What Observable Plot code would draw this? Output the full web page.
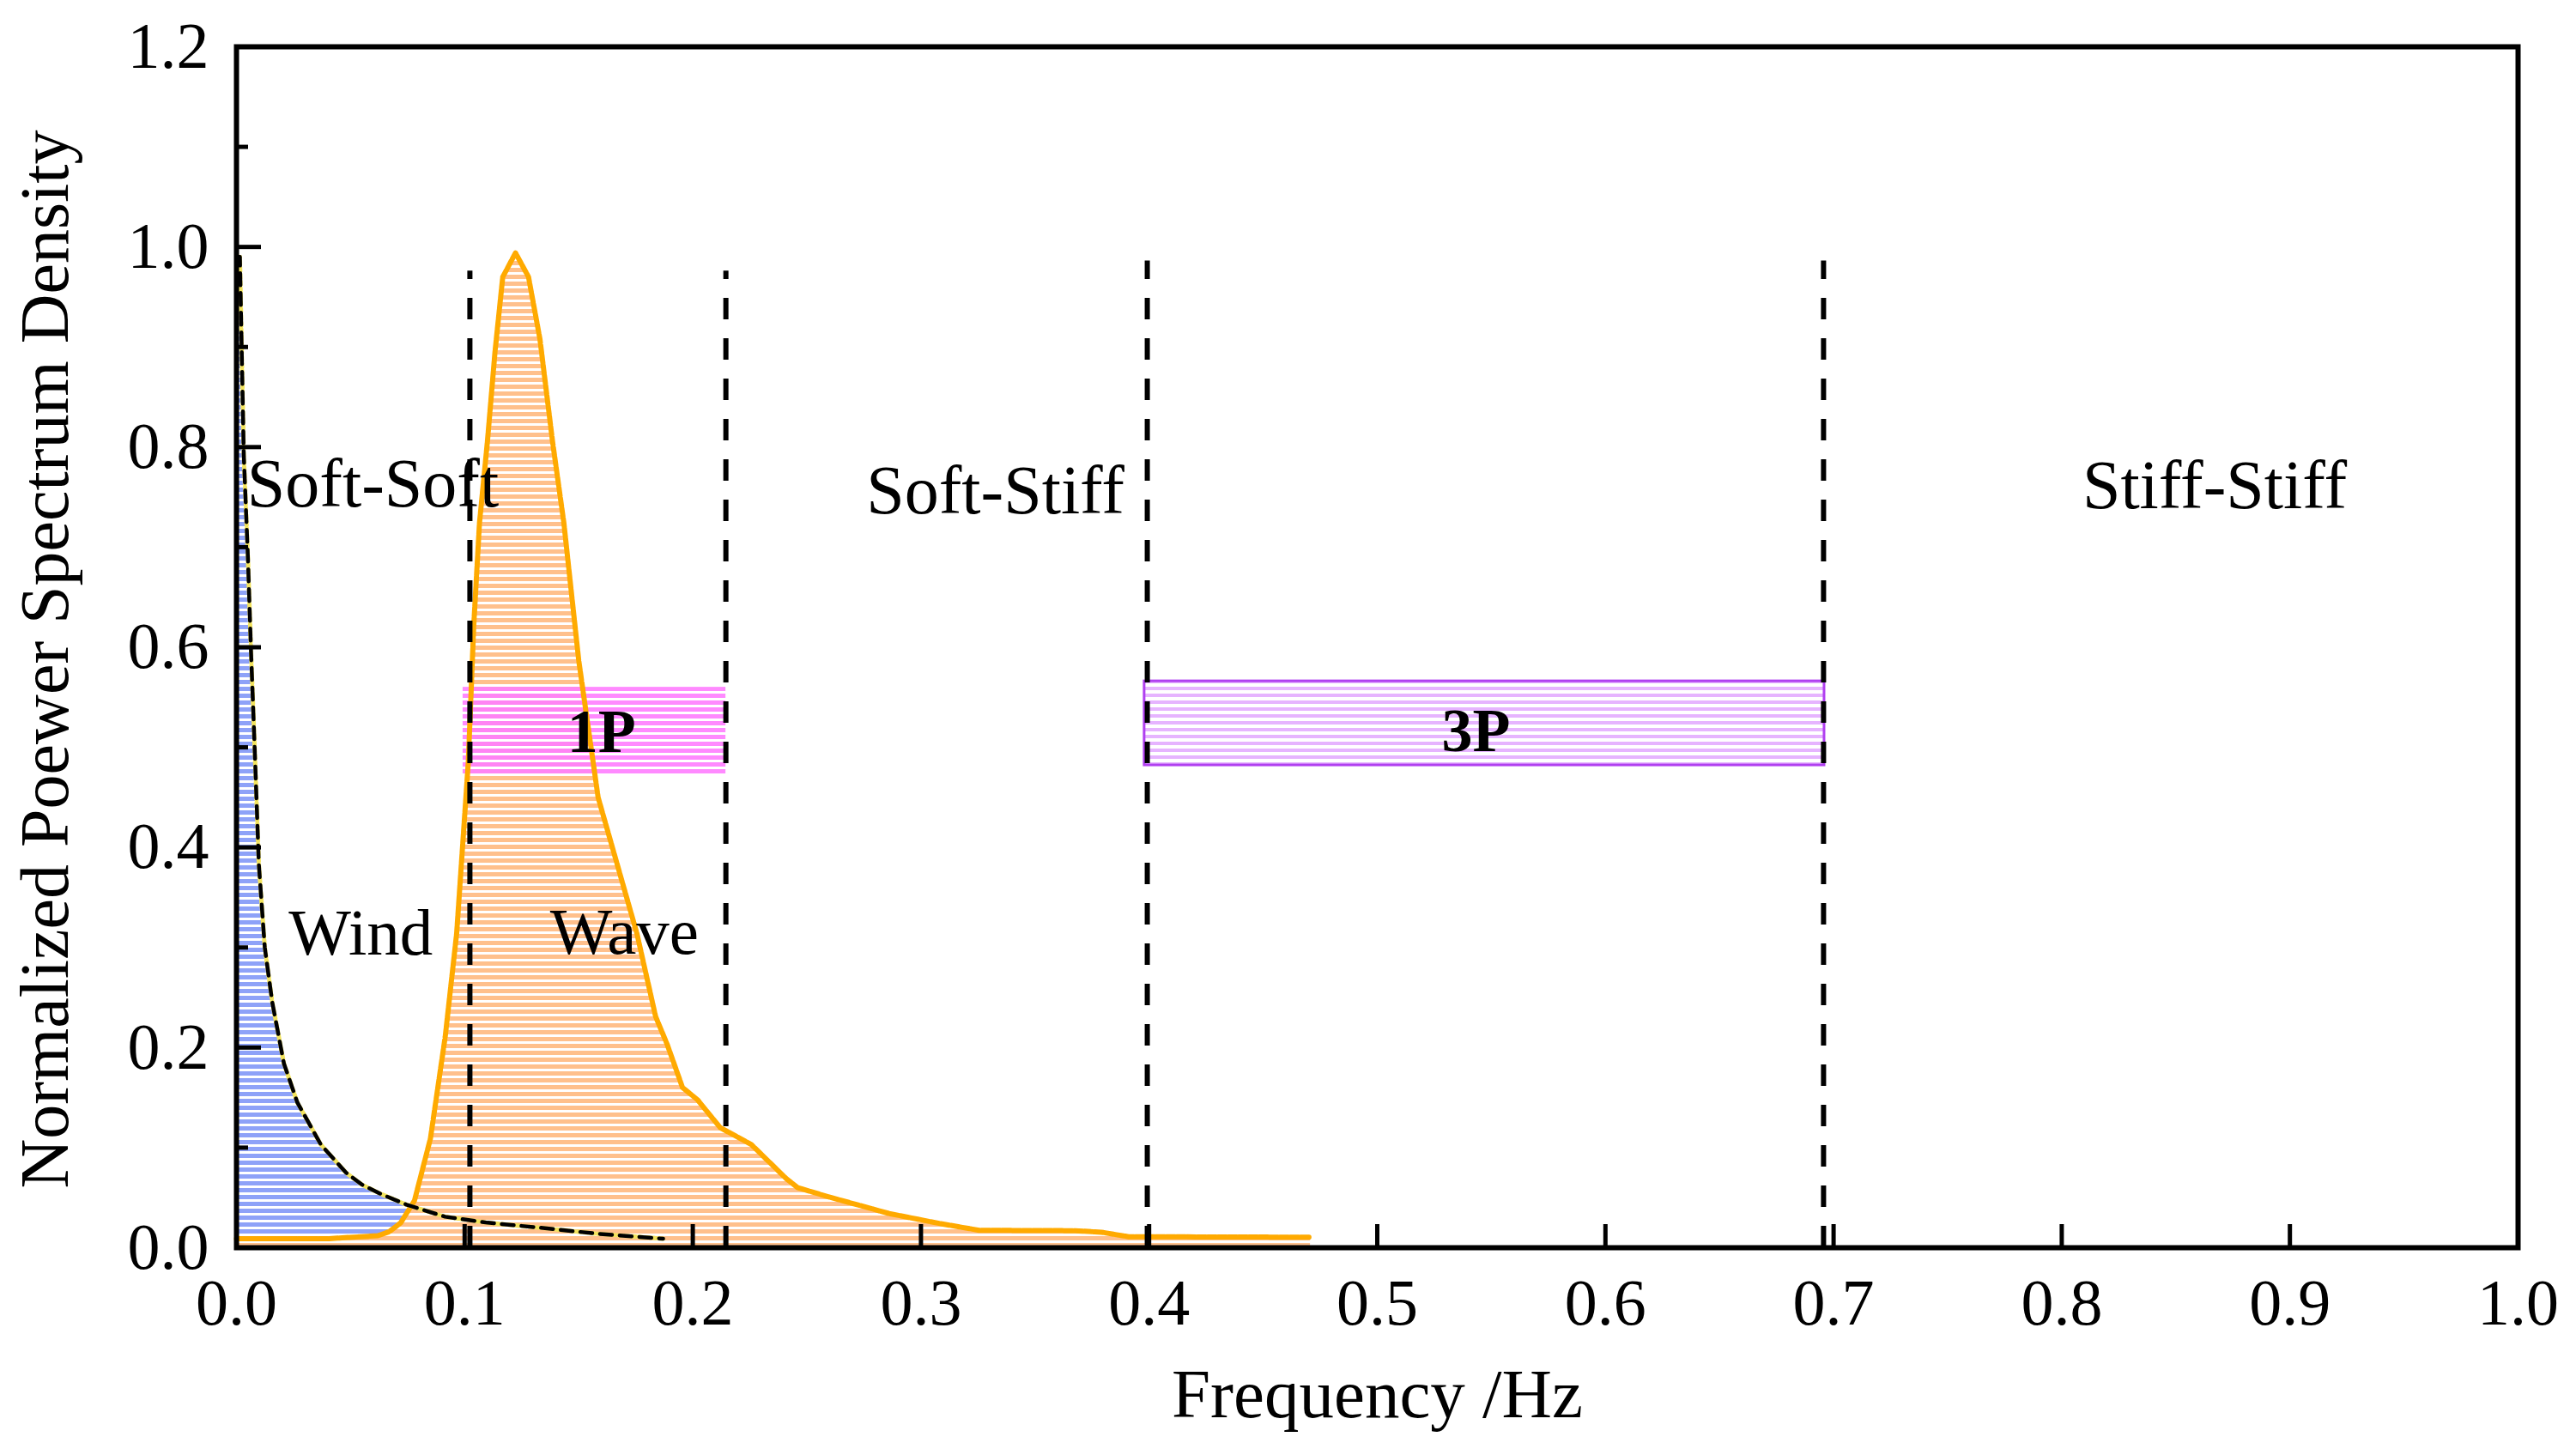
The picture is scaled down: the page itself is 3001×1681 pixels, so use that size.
<!DOCTYPE html>
<html>
<head>
<meta charset="utf-8">
<script src="https://cdn.jsdelivr.net/npm/d3@7"></script>
<script src="https://cdn.jsdelivr.net/npm/@observablehq/plot@0.6"></script>
<style>
  html, body { margin: 0; padding: 0; background: #fff; }
  svg { display: block; }
</style>
</head>
<body>
<div id="chart"></div>
<script>
// ---- data ----
const waveFreq = [0, 0.04, 0.062, 0.067, 0.072, 0.078, 0.085, 0.0915, 0.0965, 0.1016, 0.104, 0.1065, 0.110, 0.1133, 0.1167, 0.1223, 0.128, 0.133, 0.1385, 0.1435, 0.150, 0.1585, 0.167, 0.1755, 0.1837, 0.1888, 0.1955, 0.202, 0.212, 0.2257, 0.241, 0.246, 0.2593, 0.2863, 0.3087, 0.3255, 0.3676, 0.379, 0.391, 0.4707];
const waveVal  = [0.009, 0.009, 0.012, 0.016, 0.025, 0.047, 0.109, 0.211, 0.314, 0.485, 0.622, 0.724, 0.806, 0.895, 0.970, 0.994, 0.970, 0.908, 0.806, 0.724, 0.587, 0.450, 0.382, 0.314, 0.231, 0.203, 0.160, 0.148, 0.120, 0.103, 0.069, 0.060, 0.051, 0.034, 0.024, 0.0174, 0.017, 0.0155, 0.011, 0.0105];

const windFreq = [0, 0.0015, 0.0023, 0.0032, 0.005, 0.0064, 0.0082, 0.0098, 0.0124, 0.0157, 0.0208, 0.0267, 0.037, 0.048, 0.055, 0.063, 0.0745, 0.0914, 0.11, 0.133, 0.158, 0.187];
const windVal  = [0.99, 0.99, 0.895, 0.792, 0.690, 0.594, 0.485, 0.383, 0.300, 0.245, 0.184, 0.145, 0.103, 0.075, 0.063, 0.054, 0.043, 0.031, 0.025, 0.020, 0.014, 0.009];

const boundaryFreq = [0.1023, 0.2145, 0.3992, 0.6956];
const boundaryTop  = [0.976, 0.976, 0.986, 0.986];

const bandNames = ["1P", "3P"];
const bandX1 = [0.0993, 0.398];
const bandX2 = [0.2145, 0.696];
const bandY1 = [0.471, 0.482];
const bandY2 = [0.560, 0.566];
const bandLabelX = [0.160, 0.5433];
const bandLabelY = [0.495, 0.496];

const regionNames = ["Soft-Soft", "Soft-Stiff", "Stiff-Stiff"];
const regionX = [0.0598, 0.3326, 0.867];
const regionY = [0.741, 0.734, 0.739];

const curveNames = ["Wind", "Wave"];
const curveX = [0.0545, 0.170];
const curveY = [0.293, 0.294];

const xTicks = [0, 0.1, 0.2, 0.3, 0.4, 0.5, 0.6, 0.7, 0.8, 0.9, 1.0];
const yTicks = [0, 0.2, 0.4, 0.6, 0.8, 1.0, 1.2];
const yMinorTicks = [0.1, 0.3, 0.5, 0.7, 0.9, 1.1];

const xLabel = "Frequency /Hz";
const yLabel = "Normalized Poewer Spectrum Density";

// ---- tables built from the arrays ----
const wave = waveFreq.map((f, i) => ({f, v: waveVal[i]}));
const wind = windFreq.map((f, i) => ({f, v: windVal[i]}));
const boundaries = boundaryFreq.map((f, i) => ({f, top: boundaryTop[i]}));
const bands = bandNames.map((name, i) => ({name, x1: bandX1[i], x2: bandX2[i], y1: bandY1[i], y2: bandY2[i], lx: bandLabelX[i], ly: bandLabelY[i]}));
const regions = regionNames.map((name, i) => ({name, x: regionX[i], y: regionY[i]}));
const curves = curveNames.map((name, i) => ({name, x: curveX[i], y: curveY[i]}));

const font = '"Liberation Serif", "Times New Roman", serif';
const fmt = d3.format(".1f");

const chart = Plot.plot({
  width: 3001,
  height: 1681,
  marginLeft: 275,
  marginRight: 68,
  marginTop: 54,
  marginBottom: 228,
  style: {fontFamily: font, background: "white", color: "black"},
  x: {domain: [0, 1]},
  y: {domain: [0, 1.2]},
  marks: [
    Plot.areaY(wind, {x: "f", y: "v", fill: "url(#pBlue)"}),
    Plot.areaY(wave, {x: "f", y: "v", fill: "url(#pOrange)"}),
    Plot.rect(bands.filter(d => d.name === "1P"), {x1: "x1", x2: "x2", y1: "y1", y2: "y2", fill: "url(#pPink)", fillOpacity: 0.9}),
    Plot.rect(bands.filter(d => d.name === "3P"), {x1: "x1", x2: "x2", y1: "y1", y2: "y2", fill: "url(#pPurple)", stroke: "#b040f0", strokeWidth: 3}),
    Plot.lineY(wave, {x: "f", y: "v", stroke: "#ffaa00", strokeWidth: 6, strokeDasharray: "10 2"}),
    Plot.lineY(wind, {x: "f", y: "v", stroke: "#f2e35e", strokeWidth: 5, strokeDasharray: "5 3"}),
    Plot.lineY(wind, {x: "f", y: "v", stroke: "black", strokeWidth: 4.5, strokeDasharray: "14 9"}),
    Plot.ruleX(boundaries, {x: "f", y1: 0, y2: "top", stroke: "black", strokeWidth: 6, strokeDasharray: "25 22"}),
    // ticks (inward)
    Plot.ruleX(xTicks, {x: d => d, y1: 0, y2: 0, insetTop: -27, stroke: "black", strokeWidth: 5}),
    Plot.ruleY(yTicks, {y: d => d, x1: 0, x2: 0, insetRight: -29, stroke: "black", strokeWidth: 5}),
    Plot.ruleY(yMinorTicks, {y: d => d, x1: 0, x2: 0, insetRight: -14, stroke: "black", strokeWidth: 5}),
    Plot.axisX({ticks: xTicks, tickSize: 0, tickPadding: 36, tickFormat: fmt, fontSize: 76, label: null}),
    Plot.axisY({ticks: yTicks, tickSize: 0, tickPadding: 32, tickFormat: fmt, fontSize: 76, label: null}),
    // texts
    Plot.text(regions, {x: "x", y: "y", text: "name", lineAnchor: "bottom", fontSize: 80}),
    Plot.text(curves, {x: "x", y: "y", text: "name", lineAnchor: "bottom", fontSize: 77}),
    Plot.text(bands, {x: "lx", y: "ly", text: "name", lineAnchor: "bottom", fontSize: 72, fontWeight: "bold"}),
    Plot.text([xLabel], {text: d => d, frameAnchor: "bottom", dy: 197, lineAnchor: "bottom", fontSize: 81}),
    Plot.text([yLabel], {text: d => d, frameAnchor: "left", dx: -222, dy: 14, rotate: -90, textAnchor: "middle", lineAnchor: "middle", fontSize: 80}),
    Plot.frame({stroke: "black", strokeWidth: 6})
  ]
});

// stripe patterns
const svgSel = d3.select(chart.tagName.toLowerCase() === "svg" ? chart : chart.querySelector("svg"));
const defs = svgSel.insert("defs", ":first-child");
function stripes(id, color, thick) {
  const p = defs.append("pattern").attr("id", id).attr("patternUnits", "userSpaceOnUse")
    .attr("width", 8).attr("height", 8);
  p.append("rect").attr("x", 0).attr("y", 0).attr("width", 8).attr("height", thick).attr("fill", color);
}
stripes("pBlue", "#8ea2f8", 5);
stripes("pOrange", "#ffc08c", 5);
stripes("pPink", "#ff7dff", 5);
stripes("pPurple", "#e6b4ff", 4);

document.getElementById("chart").appendChild(chart);
</script>
</body>
</html>
